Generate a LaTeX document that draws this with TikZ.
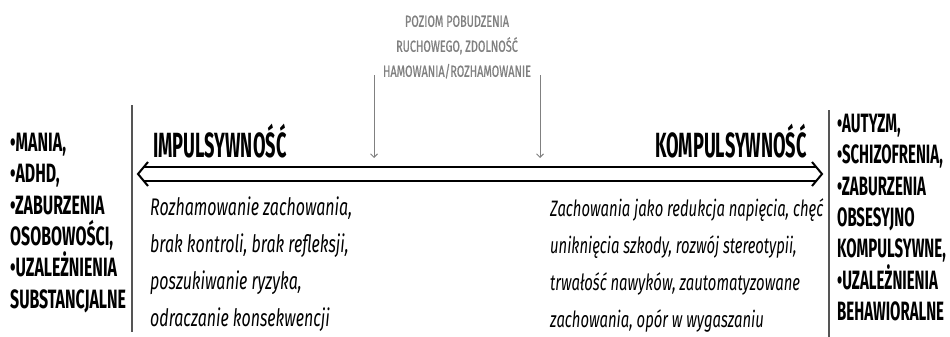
\documentclass[tikz,border=0pt]{standalone}
\usepackage{fontspec}
\usetikzlibrary{arrows.meta,calc,positioning}
\newfontfamily\capsfont[FakeStretch=0.52]{Fira Sans}
\newfontfamily\listfont[FakeStretch=0.6]{Fira Sans}
\newfontfamily\rlistfont[FakeStretch=0.565]{Fira Sans}
\newfontfamily\levelfont[FakeStretch=0.68,FakeBold=0.8]{Fira Sans}
\newfontfamily\notefont[FakeStretch=0.665]{Fira Sans}
\definecolor{levelgray}{HTML}{808080}
\definecolor{rulegray}{HTML}{555555}
\tikzset{every picture/.style={
  >=Straight Barb                  % Thin open arrows.
  }
}

\begin{document}
\begin{tikzpicture}[
      x=1pt,y=-1pt,
      sidelist/.style={
        inner sep=0pt,
        align=left,
        font=#1\bfseries\fontsize{26.5}{31.3}\selectfont
      },
      pole/.style={
        inner sep=0pt,
        font=\capsfont\bfseries\fontsize{35}{40}\selectfont
      },
      note/.style={
        anchor=north west,
        inner sep=0pt,
        align=left,
        font=\notefont\itshape\fontsize{#1}{37}\selectfont
      },
      level/.style={
        inner sep=0pt,
        align=center,
        text=levelgray,
        font=\levelfont\fontsize{16}{25}\selectfont
      },
      levelarrow/.style={->,levelgray,line width=1pt},
      axis/.style={line width=2pt,line join=miter},
      rule/.style={rulegray,line width=1.1pt}]

      \useasboundingbox (0,0) rectangle (950,337);

      % Draw the two side lists and their rules.
      \node[sidelist=\listfont,anchor=north west] (left) at (10,133)
        {•MANIA,\\•ADHD,\\•ZABURZENIA\\OSOBOWOŚCI,\\•UZALEŻNIENIA\\SUBSTANCJALNE};
      \node[sidelist=\rlistfont,anchor=north west] (right) at (837,114)
        {•AUTYZM,\\•SCHIZOFRENIA,\\•ZABURZENIA\\OBSESYJNO\\KOMPULSYWNE,\\•UZALEŻNIENIA\\BEHAWIORALNE};

      \coordinate (ltop) at (132,105);
      \coordinate (lbot) at (132,332);
      \coordinate (rtop) at (829,110);
      \coordinate (rbot) at (829,337);
      \draw[rule] (ltop) -- (lbot);
      \draw[rule] (rtop) -- (rbot);

      % Draw the main axis: two rails and an open head at each end.
      \coordinate (west) at (138,174);
      \coordinate (east) at (822,174);
      \draw[axis] ($(west)+(10,-12)$) -- (west) -- ($(west)+(10,12)$);
      \draw[axis] ($(east)+(-10,-12)$) -- (east) -- ($(east)+(-10,12)$);
      \draw[axis] ($(west)+(5.8,-7)$) -- ($(east)+(-5.8,-7)$);
      \draw[axis] ($(west)+(5.8,7)$) -- ($(east)+(-5.8,7)$);

      \node[pole,anchor=base west] (impuls) at (153,157) {IMPULSYWNOŚĆ};
      \node[pole,anchor=base east] (kompuls) at (807,157) {KOMPULSYWNOŚĆ};

      % Render the descriptions.
      \node[note=24] (rozham) at (150,197)
        {Rozhamowanie zachowania,\\brak kontroli, brak refleksji,\\poszukiwanie ryzyka,\\odraczanie konsekwencji};
      \node[note=22.3] (zachow) at (550,198)
        {Zachowania jako redukcja napięcia, chęć\\uniknięcia szkody, rozwój stereotypii,\\trwałość nawyków, zautomatyzowane\\zachowania, opór w wygaszaniu};

      % Level of arousal and its two marks.
      \node[level] (arousal) at (457,47)
        {POZIOM POBUDZENIA\\RUCHOWEGO, ZDOLNOŚĆ\\HAMOWANIA/ROZHAMOWANIE};

      \def\mark#1#2{ \coordinate (#1 top) at (#2,75); \coordinate (#1 end) at (#2,158);
        \draw[levelarrow] (#1 top) -- (#1 end) }; % Helper.

      \mark{lo}{374};
      \mark{hi}{540};

    \end{tikzpicture}
\end{document}
